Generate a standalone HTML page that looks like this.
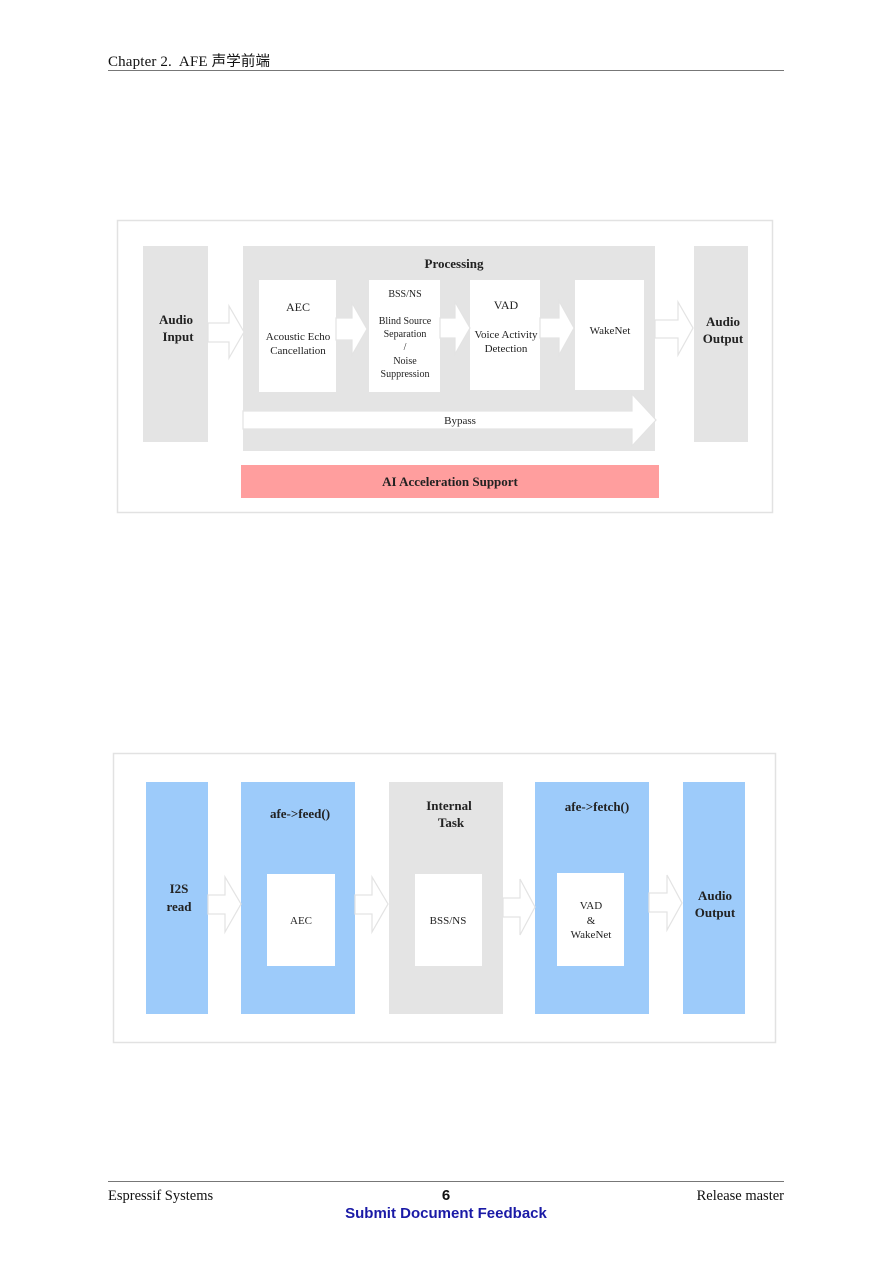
<!DOCTYPE html>
<html><head><meta charset="utf-8"><style>
html,body{margin:0;padding:0;background:#fff;}
svg{display:block;}
</style></head><body>
<svg width="892" height="1262" viewBox="0 0 892 1262" xmlns="http://www.w3.org/2000/svg" font-family="'Liberation Serif','Noto Sans CJK SC',serif">
<!-- header -->
<text x="108" y="66" font-size="15" fill="#111" textLength="162" lengthAdjust="spacing" xml:space="preserve">Chapter 2.  AFE <tspan font-family="'Noto Sans CJK SC',sans-serif" font-size="14.5">声学前端</tspan></text>
<line x1="108" y1="70.5" x2="784" y2="70.5" stroke="#777" stroke-width="1"/>

<!-- Diagram 1 -->
<rect x="117.5" y="220.5" width="655" height="292" fill="#fff" stroke="#e2e2e2" stroke-width="1.5"/>
<rect x="143" y="246" width="65" height="196" fill="#e4e4e4"/>
<rect x="243" y="246" width="412" height="205" fill="#e4e4e4"/>
<rect x="694" y="246" width="54" height="196" fill="#e4e4e4"/>
<rect x="259" y="280" width="77" height="112" fill="#fff"/>
<rect x="369" y="280" width="71" height="112" fill="#fff"/>
<rect x="470" y="280" width="70" height="110" fill="#fff"/>
<rect x="575" y="280" width="69" height="110" fill="#fff"/>
<rect x="241" y="465" width="418" height="33" fill="#ff9e9e"/>

<g fill="#fff" stroke="#e3e3e3" stroke-width="1.2">
<polygon points="208,323 229,323 229,306 244,332 229,358 229,342 208,342"/>
<polygon points="336,318 352,318 352,303 367,329 352,355 352,340 336,340"/>
<polygon points="440,318 455,318 455,302 470,328 455,354 455,338 440,338"/>
<polygon points="540,318 559,318 559,301 574,328 559,355 559,338 540,338"/>
<polygon points="655,320 678,320 678,302 693,328 678,355 678,338 655,338"/>
<polygon points="243,411 632,411 632,394 656,420 632,446 632,429 243,429"/>
</g>

<g text-anchor="middle" fill="#222">
<text x="176" y="324" font-size="13" font-weight="bold">Audio</text>
<text x="178" y="341" font-size="13" font-weight="bold">Input</text>
<text x="454" y="268" font-size="13" font-weight="bold">Processing</text>
<text x="723" y="326" font-size="13" font-weight="bold">Audio</text>
<text x="723" y="343" font-size="13" font-weight="bold">Output</text>
<text x="298" y="311" font-size="12">AEC</text>
<text x="298" y="340" font-size="11">Acoustic Echo</text>
<text x="298" y="354" font-size="11">Cancellation</text>
<text x="405" y="297" font-size="10">BSS/NS</text>
<text x="405" y="324" font-size="10">Blind Source</text>
<text x="405" y="337" font-size="10">Separation</text>
<text x="405" y="350" font-size="10">/</text>
<text x="405" y="364" font-size="10">Noise</text>
<text x="405" y="377" font-size="10">Suppression</text>
<text x="506" y="309" font-size="12">VAD</text>
<text x="506" y="338" font-size="11">Voice Activity</text>
<text x="506" y="352" font-size="11">Detection</text>
<text x="610" y="334" font-size="11">WakeNet</text>
<text x="460" y="424" font-size="11">Bypass</text>
<text x="450" y="486" font-size="13" font-weight="bold">AI Acceleration Support</text>
</g>

<!-- Diagram 2 -->
<rect x="113.5" y="753.5" width="662" height="289" fill="#fff" stroke="#e2e2e2" stroke-width="1.5"/>
<rect x="146" y="782" width="62" height="232" fill="#9dcbfa"/>
<rect x="241" y="782" width="114" height="232" fill="#9dcbfa"/>
<rect x="389" y="782" width="114" height="232" fill="#e4e4e4"/>
<rect x="535" y="782" width="114" height="232" fill="#9dcbfa"/>
<rect x="683" y="782" width="62" height="232" fill="#9dcbfa"/>
<rect x="267" y="874" width="68" height="92" fill="#fff"/>
<rect x="415" y="874" width="67" height="92" fill="#fff"/>
<rect x="557" y="873" width="67" height="93" fill="#fff"/>

<g fill="#fff" stroke="#e3e3e3" stroke-width="1.2">
<polygon points="208,895 225,895 225,877 241,904 225,932 225,914 208,914"/>
<polygon points="355,895 372,895 372,877 388,904 372,932 372,914 355,914"/>
<polygon points="503,898 520,898 520,879 535,907 520,935 520,917 503,917"/>
<polygon points="649,893 667,893 667,875 682,903 667,930 667,912 649,912"/>
</g>

<g text-anchor="middle" fill="#222">
<text x="179" y="893" font-size="13" font-weight="bold">I2S</text>
<text x="179" y="911" font-size="13" font-weight="bold">read</text>
<text x="300" y="818" font-size="13" font-weight="bold">afe-&gt;feed()</text>
<text x="449" y="810" font-size="13" font-weight="bold">Internal</text>
<text x="451" y="827" font-size="13" font-weight="bold">Task</text>
<text x="597" y="811" font-size="13" font-weight="bold">afe-&gt;fetch()</text>
<text x="715" y="900" font-size="13" font-weight="bold">Audio</text>
<text x="715" y="917" font-size="13" font-weight="bold">Output</text>
<text x="301" y="924" font-size="11">AEC</text>
<text x="448" y="924" font-size="11">BSS/NS</text>
<text x="591" y="909" font-size="11">VAD</text>
<text x="591" y="924" font-size="11">&amp;</text>
<text x="591" y="938" font-size="11">WakeNet</text>
</g>

<!-- footer -->
<line x1="108" y1="1181.5" x2="784" y2="1181.5" stroke="#777" stroke-width="1"/>
<text x="108" y="1200" font-size="14.5" fill="#111">Espressif Systems</text>
<text x="784" y="1200" font-size="14.5" fill="#111" text-anchor="end">Release master</text>
<text x="446" y="1200" font-size="15" font-weight="bold" fill="#111" text-anchor="middle" font-family="'Liberation Sans',sans-serif">6</text>
<text x="446" y="1218" font-size="15" font-weight="bold" fill="#1a1aa6" text-anchor="middle" font-family="'Liberation Sans',sans-serif">Submit Document Feedback</text>
</svg>
</body></html>
